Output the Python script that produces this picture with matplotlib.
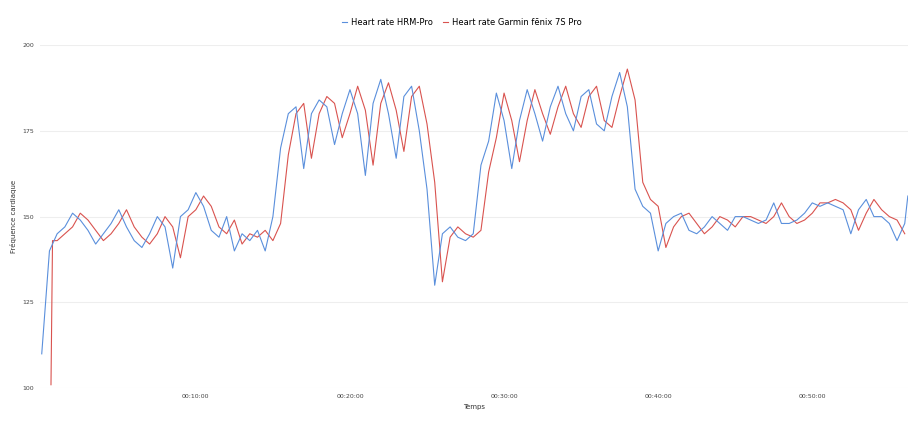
import matplotlib
matplotlib.use("Agg")
import matplotlib.pyplot as plt

blue_t = [i * 0.5 for i in range(113)] + [56.2]
blue_v = [110, 140, 145, 147, 151, 149, 146, 142, 145, 148,
          152, 147, 143, 141, 145, 150, 147, 135, 150, 152,
          157, 153, 146, 144, 150, 140, 145, 143, 146, 140,
          150, 170, 180, 182, 164, 180, 184, 182, 171, 180,
          187, 180, 162, 183, 190, 180, 167, 185, 188, 175,
          158, 130, 145, 147, 144, 143, 145, 165, 172, 186,
          178, 164, 178, 187, 180, 172, 182, 188, 180, 175,
          185, 187, 177, 175, 185, 192, 182, 158, 153, 151,
          140, 148, 150, 151, 146, 145, 147, 150, 148, 146,
          150, 150, 149, 148, 149, 154, 148, 148, 149, 151,
          154, 153, 154, 153, 152, 145, 152, 155, 150, 150,
          148, 143, 148, 156, 157]
blue_v = blue_v[:len(blue_t)]

red_t = [0.6, 0.7] + [1.0 + i * 0.5 for i in range(111)]
red_v = [101, 143, 143, 145, 147, 151, 149, 146, 143, 145, 148,
         152, 147, 144, 142, 145, 150, 147, 138, 150, 152,
         156, 153, 147, 145, 149, 142, 145, 144, 146, 143,
         148, 168, 180, 183, 167, 180, 185, 183, 173, 180,
         188, 181, 165, 183, 189, 181, 169, 185, 188, 177,
         160, 131, 144, 147, 145, 144, 146, 163, 173, 186,
         178, 166, 178, 187, 180, 174, 182, 188, 180, 176,
         185, 188, 178, 176, 185, 193, 184, 160, 155, 153,
         141, 147, 150, 151, 148, 145, 147, 150, 149, 147,
         150, 150, 149, 148, 150, 154, 150, 148, 149, 151,
         154, 154, 155, 154, 152, 146, 151, 155, 152, 150,
         149, 145, 147, 155]
red_v = red_v[:len(red_t)]

xticks = [10, 20, 30, 40, 50]
xtick_labels = ["00:10:00", "00:20:00", "00:30:00", "00:40:00", "00:50:00"]
yticks = [100, 125, 150, 175, 200]

fig = plt.figure(figsize=(9.24, 4.21), dpi=100)
ax = fig.add_axes([0.043, 0.078, 0.940, 0.815])
ax.plot(red_t, red_v, color="#d9534f", lw=0.8, label="Heart rate Garmin fēnix 7S Pro", zorder=2)
ax.plot(blue_t, blue_v, color="#5a8fdc", lw=0.8, label="Heart rate HRM-Pro", zorder=3)
ax.set_xlim(-0.13, 56.23)
ax.set_ylim(100, 200)
ax.set_xticks(xticks)
ax.set_xticklabels(xtick_labels)
ax.set_yticks(yticks)
for s in ax.spines.values():
    s.set_visible(False)
ax.grid(axis="y", color="#eeeeee", lw=0.8)
ax.set_axisbelow(True)
ax.tick_params(length=0, labelsize=4.5, colors="#444444", pad=4)
ax.set_xlabel("Temps", fontsize=5, color="#333333", labelpad=4)
ax.set_ylabel("Fréquence cardiaque", fontsize=5, color="#333333", labelpad=4)
h, l = ax.get_legend_handles_labels()
fig.legend(h[::-1], l[::-1], loc="upper center", bbox_to_anchor=(0.5, 0.975), ncol=2,
           frameon=False, fontsize=6, handlelength=0.6, handletextpad=0.5, columnspacing=1.2)
fig.savefig("out.png", dpi=100)
